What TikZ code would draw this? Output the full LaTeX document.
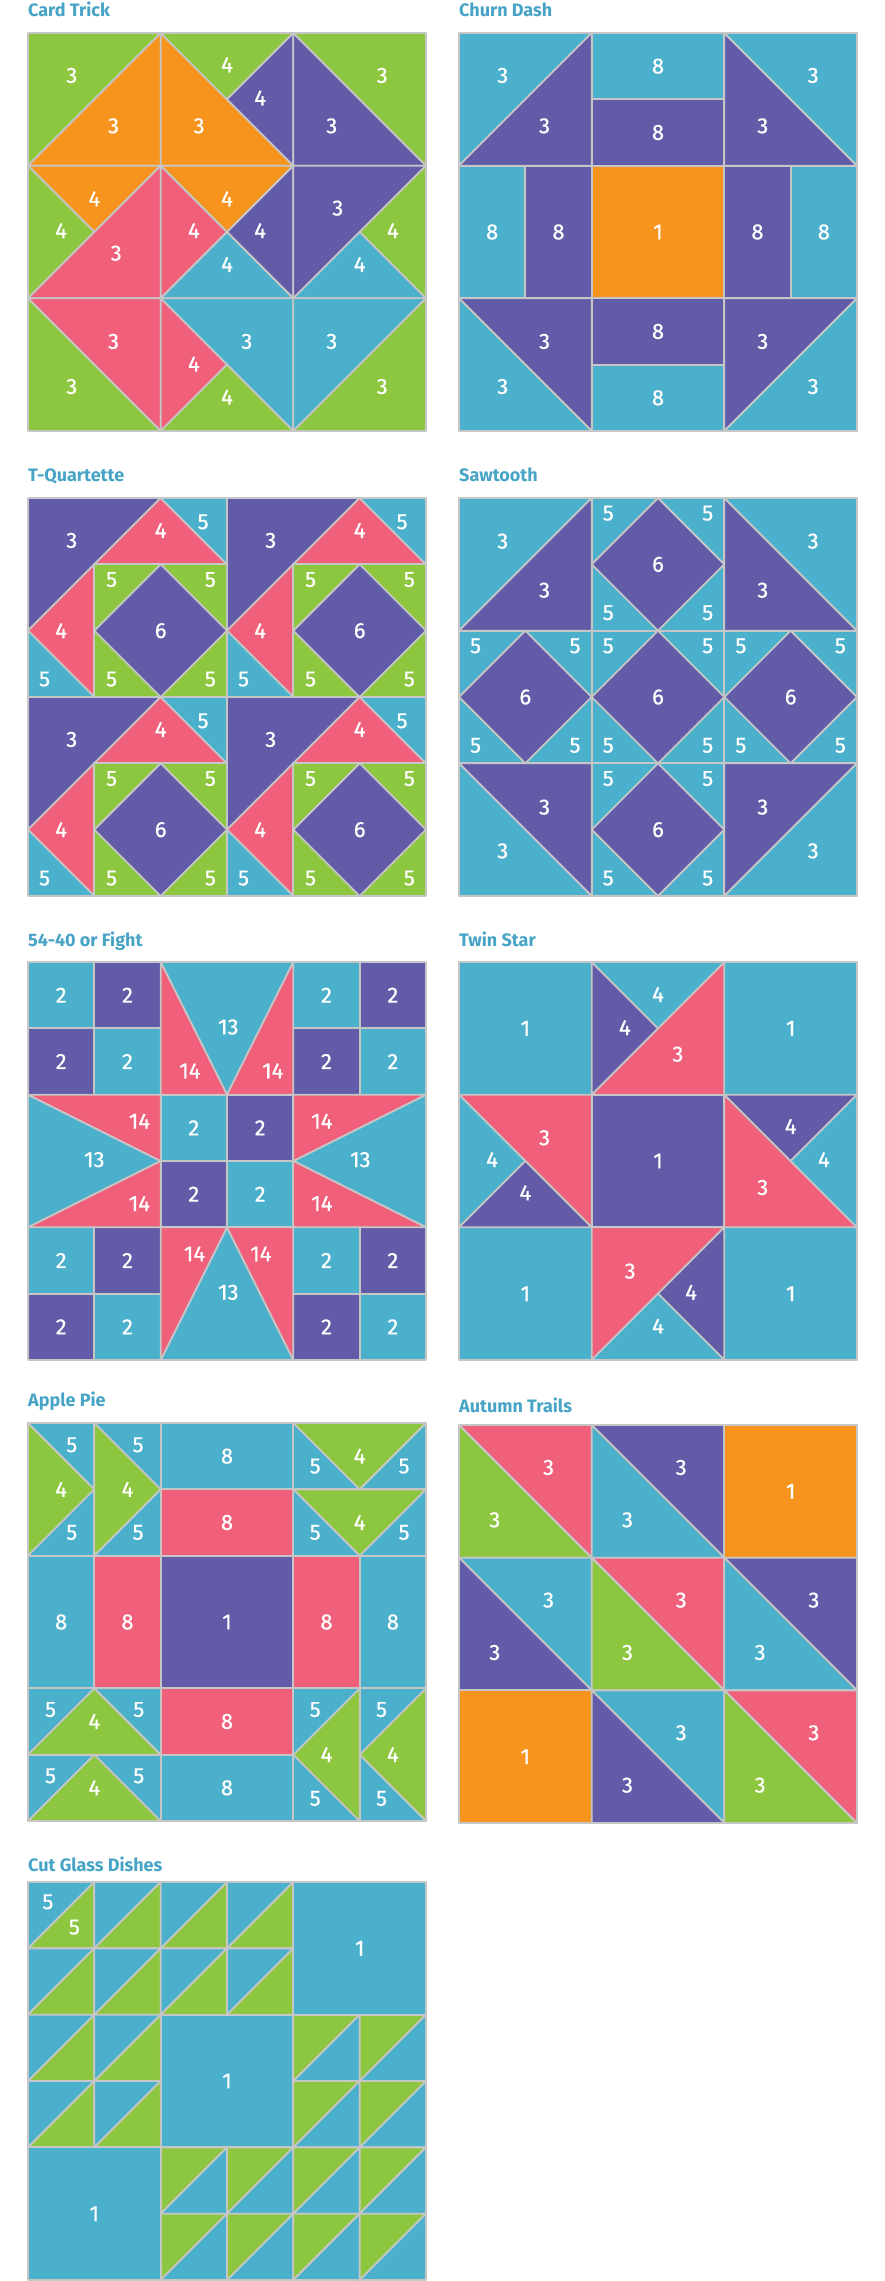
\documentclass[tikz,border=0pt]{standalone}
\usepackage{fontspec}
\setmainfont{Fira Sans}
\newfontfamily\digfont{Fira Sans}[FakeBold=0.6]
\usetikzlibrary{calc}
\definecolor{grn}{HTML}{8DC63F}
\definecolor{org}{HTML}{F7941D}
\definecolor{pur}{HTML}{615BA8}
\definecolor{pnk}{HTML}{F0607B}
\definecolor{tea}{HTML}{4AB0CB}
\definecolor{lg}{HTML}{C6C6C6}
\definecolor{ttl}{HTML}{47A4C6}
\tikzset{
  patch/.style={fill=#1, draw=lg, line width=1.8pt, line join=round},
  num/.style={text=white, font=\digfont\fontsize{22}{22}\selectfont, inner sep=0pt, anchor=center},
  ttlstyle/.style={text=ttl, font=\bfseries\fontsize{18}{18}\selectfont, inner sep=0pt, anchor=base west},
  blk/.style={x=66.333pt, y=-66.333pt}
}
\newcommand{\lab}[3]{\node[num] at (#1,#2) {#3};}
\newcommand{\rl}[6]{\path[patch=#5] (#1,#2) rectangle (#3,#4); \node[num] at ($(#1,#2)!.5!(#3,#4)$) {#6};}
\newcommand{\sis}[6]{\begin{scope}[shift={(#1,#2)}]
  \path[patch=#3] (0,0) rectangle (2,2);
  \path[patch=#4] (1,0) -- (2,1) -- (1,2) -- (0,1) -- cycle;
  \lab{0.25}{0.23}{#5}\lab{1.75}{0.23}{#5}\lab{0.25}{1.73}{#5}\lab{1.75}{1.73}{#5}\lab{1}{1}{#6}
\end{scope}}
\newcommand{\tquad}[2]{\begin{scope}[shift={(#1,#2)}]
  \path[patch=pur] (0,0) -- (2,0) -- (0,2) -- cycle;
  \path[patch=pnk] (2,0) -- (3,1) -- (1,1) -- cycle;
  \path[patch=tea] (2,0) -- (3,0) -- (3,1) -- cycle;
  \path[patch=pnk] (0,2) -- (1,1) -- (1,3) -- cycle;
  \path[patch=tea] (0,2) -- (1,3) -- (0,3) -- cycle;
  \path[patch=grn] (1,1) rectangle (3,3);
  \path[patch=pur] (2,1) -- (3,2) -- (2,3) -- (1,2) -- cycle;
  \lab{0.66}{0.64}{3}\lab{2.0}{0.49}{4}\lab{2.64}{0.36}{5}
  \lab{1.26}{1.23}{5}\lab{2.75}{1.23}{5}\lab{2}{2}{6}\lab{0.5}{2.0}{4}
  \lab{0.25}{2.73}{5}\lab{1.26}{2.73}{5}\lab{2.75}{2.73}{5}
\end{scope}}
\newcommand{\fourp}[2]{\begin{scope}[shift={(#1,#2)}]
  \rl{0}{0}{1}{1}{tea}{2}\rl{1}{0}{2}{1}{pur}{2}\rl{0}{1}{1}{2}{pur}{2}\rl{1}{1}{2}{2}{tea}{2}
\end{scope}}
\newcommand{\athst}[4]{\begin{scope}[shift={(#1,#2)}]
  \path[patch=#3] (0,0) -- (2,0) -- (2,2) -- cycle;
  \path[patch=#4] (0,0) -- (2,2) -- (0,2) -- cycle;
  \lab{1.35}{0.64}{3}\lab{0.54}{1.43}{3}
\end{scope}}
\newcommand{\cgA}[2]{\begin{scope}[shift={(#1,#2)}]
  \path[patch=tea] (0,0) -- (1,0) -- (0,1) -- cycle;
  \path[patch=grn] (1,0) -- (1,1) -- (0,1) -- cycle;
\end{scope}}
\newcommand{\cgB}[2]{\begin{scope}[shift={(#1,#2)}]
  \path[patch=grn] (0,0) -- (1,0) -- (0,1) -- cycle;
  \path[patch=tea] (1,0) -- (1,1) -- (0,1) -- cycle;
\end{scope}}
\begin{document}
\begin{tikzpicture}[x=1pt, y=-1pt]
\path[use as bounding box, fill=white] (0,0) rectangle (885,2281);
% titles
\node[ttlstyle] (t1) at (28,16) {Card Trick};
\node[ttlstyle] (t2) at (459,16) {Churn Dash};
\node[ttlstyle] (t3) at (28,481) {T-Quartette};
\node[ttlstyle] (t4) at (459,481) {Sawtooth};
\node[ttlstyle] (t5) at (28,946) {54-40 or Fight};
\node[ttlstyle] (t6) at (459,946) {Twin Star};
\node[ttlstyle] (t7) at (28,1406) {Apple Pie};
\node[ttlstyle] (t8) at (459,1412) {Autumn Trails};
\node[ttlstyle] (t9) at (28,1871) {Cut Glass Dishes};
% ---------- Card Trick
\begin{scope}[shift={(28,33)}, blk]
\path[patch=grn] (0,0) -- (2,0) -- (0,2) -- cycle;
\path[patch=org] (2,0) -- (2,2) -- (0,2) -- cycle;
\path[patch=org] (2,0) -- (4,2) -- (2,2) -- cycle;
\path[patch=grn] (2,0) -- (4,0) -- (3,1) -- cycle;
\path[patch=pur] (4,0) -- (4,2) -- (3,1) -- cycle;
\path[patch=pur] (4,0) -- (6,2) -- (4,2) -- cycle;
\path[patch=grn] (4,0) -- (6,0) -- (6,2) -- cycle;
\path[patch=org] (0,2) -- (2,2) -- (1,3) -- cycle;
\path[patch=grn] (0,2) -- (1,3) -- (0,4) -- cycle;
\path[patch=pnk] (2,2) -- (2,4) -- (0,4) -- cycle;
\path[patch=org] (2,2) -- (4,2) -- (3,3) -- cycle;
\path[patch=pnk] (2,2) -- (3,3) -- (2,4) -- cycle;
\path[patch=pur] (4,2) -- (4,4) -- (3,3) -- cycle;
\path[patch=tea] (2,4) -- (4,4) -- (3,3) -- cycle;
\path[patch=pur] (4,2) -- (6,2) -- (4,4) -- cycle;
\path[patch=grn] (6,2) -- (6,4) -- (5,3) -- cycle;
\path[patch=tea] (4,4) -- (5,3) -- (6,4) -- cycle;
\path[patch=pnk] (0,4) -- (2,4) -- (2,6) -- cycle;
\path[patch=grn] (0,4) -- (2,6) -- (0,6) -- cycle;
\path[patch=tea] (2,4) -- (4,4) -- (4,6) -- cycle;
\path[patch=pnk] (2,4) -- (3,5) -- (2,6) -- cycle;
\path[patch=grn] (2,6) -- (3,5) -- (4,6) -- cycle;
\path[patch=tea] (4,4) -- (6,4) -- (4,6) -- cycle;
\path[patch=grn] (6,4) -- (6,6) -- (4,6) -- cycle;
\lab{0.66}{0.64}{3}\lab{1.29}{1.40}{3}\lab{2.58}{1.40}{3}\lab{3.0}{0.48}{4}
\lab{3.5}{0.98}{4}\lab{4.58}{1.40}{3}\lab{5.34}{0.64}{3}
\lab{1.0}{2.50}{4}\lab{0.5}{2.98}{4}\lab{1.33}{3.32}{3}\lab{3.0}{2.50}{4}
\lab{2.5}{2.98}{4}\lab{3.5}{2.98}{4}\lab{3.0}{3.49}{4}\lab{4.67}{2.64}{3}
\lab{5.5}{2.98}{4}\lab{5.0}{3.49}{4}
\lab{1.29}{4.65}{3}\lab{0.66}{5.33}{3}\lab{3.30}{4.65}{3}\lab{2.5}{4.99}{4}
\lab{3.0}{5.49}{4}\lab{4.58}{4.65}{3}\lab{5.34}{5.33}{3}
\end{scope}
% ---------- Churn Dash
\begin{scope}[shift={(459,33)}, blk]
\path[patch=tea] (0,0) -- (2,0) -- (0,2) -- cycle;
\path[patch=pur] (2,0) -- (2,2) -- (0,2) -- cycle;
\path[patch=pur] (4,0) -- (6,2) -- (4,2) -- cycle;
\path[patch=tea] (4,0) -- (6,0) -- (6,2) -- cycle;
\path[patch=pur] (0,4) -- (2,4) -- (2,6) -- cycle;
\path[patch=tea] (0,4) -- (2,6) -- (0,6) -- cycle;
\path[patch=pur] (4,4) -- (6,4) -- (4,6) -- cycle;
\path[patch=tea] (6,4) -- (6,6) -- (4,6) -- cycle;
\lab{0.66}{0.64}{3}\lab{1.29}{1.40}{3}\lab{4.58}{1.40}{3}\lab{5.34}{0.64}{3}
\lab{1.29}{4.65}{3}\lab{0.66}{5.33}{3}\lab{4.58}{4.65}{3}\lab{5.34}{5.33}{3}
\rl{2}{0}{4}{1}{tea}{8}\rl{2}{1}{4}{2}{pur}{8}
\rl{0}{2}{1}{4}{tea}{8}\rl{1}{2}{2}{4}{pur}{8}
\rl{2}{2}{4}{4}{org}{1}
\rl{4}{2}{5}{4}{pur}{8}\rl{5}{2}{6}{4}{tea}{8}
\rl{2}{4}{4}{5}{pur}{8}\rl{2}{5}{4}{6}{tea}{8}
\end{scope}
% ---------- T-Quartette
\begin{scope}[shift={(28,498)}, blk]
\tquad{0}{0}\tquad{3}{0}\tquad{0}{3}\tquad{3}{3}
\end{scope}
% ---------- Sawtooth
\begin{scope}[shift={(459,498)}, blk]
\path[patch=tea] (0,0) -- (2,0) -- (0,2) -- cycle;
\path[patch=pur] (2,0) -- (2,2) -- (0,2) -- cycle;
\path[patch=pur] (4,0) -- (6,2) -- (4,2) -- cycle;
\path[patch=tea] (4,0) -- (6,0) -- (6,2) -- cycle;
\path[patch=pur] (0,4) -- (2,4) -- (2,6) -- cycle;
\path[patch=tea] (0,4) -- (2,6) -- (0,6) -- cycle;
\path[patch=pur] (4,4) -- (6,4) -- (4,6) -- cycle;
\path[patch=tea] (6,4) -- (6,6) -- (4,6) -- cycle;
\lab{0.66}{0.65}{3}\lab{1.29}{1.39}{3}\lab{4.58}{1.39}{3}\lab{5.34}{0.65}{3}
\lab{1.29}{4.66}{3}\lab{0.66}{5.32}{3}\lab{4.58}{4.66}{3}\lab{5.34}{5.32}{3}
\sis{2}{0}{tea}{pur}{5}{6}
\sis{0}{2}{tea}{pur}{5}{6}
\sis{2}{2}{tea}{pur}{5}{6}
\sis{4}{2}{tea}{pur}{5}{6}
\sis{2}{4}{tea}{pur}{5}{6}
\end{scope}
% ---------- 54-40 or Fight
\begin{scope}[shift={(28,962)}, blk]
\fourp{0}{0}\fourp{4}{0}\fourp{0}{4}\fourp{4}{4}\fourp{2}{2}
\path[patch=tea] (2,0) -- (4,0) -- (3,2) -- cycle;
\path[patch=pnk] (2,0) -- (3,2) -- (2,2) -- cycle;
\path[patch=pnk] (4,0) -- (4,2) -- (3,2) -- cycle;
\path[patch=tea] (0,2) -- (2,3) -- (0,4) -- cycle;
\path[patch=pnk] (0,2) -- (2,2) -- (2,3) -- cycle;
\path[patch=pnk] (0,4) -- (2,3) -- (2,4) -- cycle;
\path[patch=tea] (6,2) -- (6,4) -- (4,3) -- cycle;
\path[patch=pnk] (4,2) -- (6,2) -- (4,3) -- cycle;
\path[patch=pnk] (4,3) -- (6,4) -- (4,4) -- cycle;
\path[patch=tea] (3,4) -- (4,6) -- (2,6) -- cycle;
\path[patch=pnk] (2,4) -- (3,4) -- (2,6) -- cycle;
\path[patch=pnk] (3,4) -- (4,4) -- (4,6) -- cycle;
\lab{3.02}{0.98}{13}\lab{2.44}{1.64}{14}\lab{3.69}{1.64}{14}
\lab{1.0}{2.98}{13}\lab{1.68}{2.40}{14}\lab{1.68}{3.64}{14}
\lab{5.01}{2.98}{13}\lab{4.43}{2.40}{14}\lab{4.43}{3.64}{14}
\lab{3.02}{4.98}{13}\lab{2.51}{4.40}{14}\lab{3.51}{4.40}{14}
\end{scope}
% ---------- Twin Star
\begin{scope}[shift={(459,962)}, blk]
\rl{0}{0}{2}{2}{tea}{1}\rl{4}{0}{6}{2}{tea}{1}\rl{0}{4}{2}{6}{tea}{1}\rl{4}{4}{6}{6}{tea}{1}
\rl{2}{2}{4}{4}{pur}{1}
\path[patch=pnk] (4,0) -- (4,2) -- (2,2) -- cycle;
\path[patch=pur] (2,0) -- (3,1) -- (2,2) -- cycle;
\path[patch=tea] (2,0) -- (4,0) -- (3,1) -- cycle;
\path[patch=pnk] (0,2) -- (2,2) -- (2,4) -- cycle;
\path[patch=tea] (0,2) -- (1,3) -- (0,4) -- cycle;
\path[patch=pur] (0,4) -- (1,3) -- (2,4) -- cycle;
\path[patch=pnk] (4,2) -- (6,4) -- (4,4) -- cycle;
\path[patch=pur] (4,2) -- (6,2) -- (5,3) -- cycle;
\path[patch=tea] (6,2) -- (6,4) -- (5,3) -- cycle;
\path[patch=pnk] (2,4) -- (4,4) -- (2,6) -- cycle;
\path[patch=pur] (4,4) -- (4,6) -- (3,5) -- cycle;
\path[patch=tea] (2,6) -- (3,5) -- (4,6) -- cycle;
\lab{3.30}{1.39}{3}\lab{2.5}{0.99}{4}\lab{3.0}{0.49}{4}
\lab{1.29}{2.65}{3}\lab{0.5}{2.98}{4}\lab{1.0}{3.48}{4}
\lab{4.58}{3.40}{3}\lab{5.0}{2.48}{4}\lab{5.5}{2.98}{4}
\lab{2.58}{4.66}{3}\lab{3.5}{4.98}{4}\lab{3.0}{5.49}{4}
\end{scope}
% ---------- Apple Pie
\begin{scope}[shift={(28,1423)}, blk]
\foreach \u in {0,1}{
  \path[patch=tea] (\u,0) rectangle (\u+1,2);
  \path[patch=grn] (\u,0) -- (\u+1,1) -- (\u,2) -- cycle;
  \lab{\u+0.5}{1.0}{4}\lab{\u+0.66}{0.33}{5}\lab{\u+0.66}{1.65}{5}
  \path[patch=tea] (4,\u) rectangle (6,\u+1);
  \path[patch=grn] (4,\u) -- (6,\u) -- (5,\u+1) -- cycle;
  \lab{5.0}{\u+0.5}{4}\lab{4.33}{\u+0.65}{5}\lab{5.67}{\u+0.65}{5}
  \path[patch=tea] (0,4+\u) rectangle (2,5+\u);
  \path[patch=grn] (0,5+\u) -- (1,4+\u) -- (2,5+\u) -- cycle;
  \lab{1.0}{4.5+\u}{4}\lab{0.34}{4.32+\u}{5}\lab{1.67}{4.32+\u}{5}
  \path[patch=tea] (4+\u,4) rectangle (5+\u,6);
  \path[patch=grn] (5+\u,4) -- (5+\u,6) -- (4+\u,5) -- cycle;
  \lab{4.5+\u}{5.0}{4}\lab{4.33+\u}{4.32}{5}\lab{4.33+\u}{5.66}{5}
}
\rl{2}{0}{4}{1}{tea}{8}\rl{2}{1}{4}{2}{pnk}{8}
\rl{0}{2}{1}{4}{tea}{8}\rl{1}{2}{2}{4}{pnk}{8}
\rl{2}{2}{4}{4}{pur}{1}
\rl{4}{2}{5}{4}{pnk}{8}\rl{5}{2}{6}{4}{tea}{8}
\rl{2}{4}{4}{5}{pnk}{8}\rl{2}{5}{4}{6}{tea}{8}
\end{scope}
% ---------- Autumn Trails
\begin{scope}[shift={(459,1425)}, blk]
\athst{0}{0}{pnk}{grn}\athst{2}{0}{pur}{tea}\rl{4}{0}{6}{2}{org}{1}
\athst{0}{2}{tea}{pur}\athst{2}{2}{pnk}{grn}\athst{4}{2}{pur}{tea}
\rl{0}{4}{2}{6}{org}{1}\athst{2}{4}{tea}{pur}\athst{4}{4}{pnk}{grn}
\end{scope}
% ---------- Cut Glass Dishes
\begin{scope}[shift={(28,1882)}, blk]
\foreach \c in {0,1,2,3}{\foreach \r in {0,1}{\cgA{\c}{\r}}}
\foreach \c in {0,1}{\foreach \r in {2,3}{\cgA{\c}{\r}}}
\foreach \c in {4,5}{\foreach \r in {2,3}{\cgB{\c}{\r}}}
\foreach \c in {2,3,4,5}{\foreach \r in {4,5}{\cgB{\c}{\r}}}
\rl{4}{0}{6}{2}{tea}{1}\rl{2}{2}{4}{4}{tea}{1}\rl{0}{4}{2}{6}{tea}{1}
\lab{0.30}{0.30}{5}\lab{0.70}{0.68}{5}
\end{scope}
\end{tikzpicture}
\end{document}
